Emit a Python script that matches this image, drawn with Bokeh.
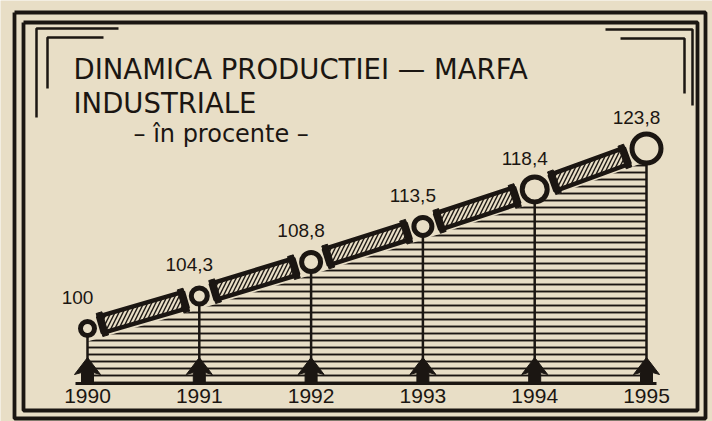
import math
from bokeh.plotting import figure
from bokeh.core.properties import value
from bokeh.embed import file_html
from bokeh.resources import INLINE

# ---- data ----
years = [1990, 1991, 1992, 1993, 1994, 1995]
values = [100, 104.3, 108.8, 113.5, 118.4, 123.8]
value_labels = ["100", "104,3", "108,8", "113,5", "118,4", "123,8"]
year_labels = ["1990", "1991", "1992", "1993", "1994", "1995"]
title_line1 = "DINAMICA PRODUCTIEI — MARFA"
title_line2 = "INDUSTRIALE"
subtitle = "– în procente –"

# ---- style / layout ----
BG = "#e8dec6"
INK = "#1b1612"
W, H = 712, 421
SX, SY = 111.8, 7.56              # pixels per year, pixels per percent
X0 = years[0] - 87 / SX
X1 = X0 + W / SX
Y1 = values[0] + 328 / SY
Y0 = Y1 - H / SY
BASE = Y1 - 383 / SY
circle_outer = [19, 21, 24, 23, 30, 34]
RING = 5


def ix(px):
    return X0 + px / SX


def iy(py):
    return Y1 - py / SY


p = figure(width=W, height=H, x_range=(X0, X1), y_range=(Y0, Y1),
           output_backend="svg", toolbar_location=None, min_border=0,
           background_fill_color=BG, border_fill_color=BG, outline_line_color=None)
p.axis.visible = False
p.grid.visible = False

# frame
for (l, t, r, b, lw) in [(14, 12, 705, 418, 3.8), (23, 22, 697, 410, 3.8)]:
    p.line([ix(l), ix(r), ix(r), ix(l), ix(l)], [iy(t), iy(t), iy(b), iy(b), iy(t)],
           line_width=lw, line_color=INK)
# corner ornaments
for pts in [[(36, 117), (36, 28), (118, 28)], [(47, 88), (47, 37), (103, 37)],
            [(605, 29), (692, 29), (692, 105)], [(620, 38), (684, 38), (684, 93)]]:
    p.line([ix(a) for a, _ in pts], [iy(c) for _, c in pts], line_width=2.5, line_color=INK)

# striped area under the line
p.varea(x=years, y1=[BASE] * len(years), y2=[v - 13 / SY for v in values],
        fill_alpha=0, hatch_pattern="horizontal_line", hatch_color=INK,
        hatch_scale=7, hatch_weight=1.9)

# verticals
p.segment(x0=years, y0=[BASE] * len(years), x1=years, y1=values, line_width=2.5, line_color=INK)

# baseline
p.segment(x0=[years[0] - 12 / SX], y0=[BASE], x1=[years[-1] + 10 / SX], y1=[BASE],
          line_width=3, line_color=INK)

# arrows
shape = [(0, -26), (13, -9), (6, -11), (6, 0), (-6, 0), (-6, -11), (-13, -9)]
axs = [[yr + dx / SX for dx, _ in shape] for yr in years]
ays = [[BASE - dy / SY for _, dy in shape] for _ in years]
p.patches(axs, ays, fill_color=INK, line_color=INK, line_width=1)

# hatched bands between points
bx, by, blen, bang = [], [], [], []
tx, ty, tang = [], [], []
for i in range(len(years) - 1):
    dxp = (years[i + 1] - years[i]) * SX
    dyp = (values[i + 1] - values[i]) * SY
    L = math.hypot(dxp, dyp)
    ang = math.atan2(dyp, dxp)
    ux, uy = dxp / L, dyp / L
    s = circle_outer[i] / 2 + 4
    e = L - circle_outer[i + 1] / 2 - 4
    m = (s + e) / 2
    bx.append(years[i] + m * ux / SX)
    by.append(values[i] + m * uy / SY)
    blen.append(e - s)
    bang.append(ang)
    for t in (s + 2, e - 2):
        tx.append(years[i] + t * ux / SX)
        ty.append(values[i] + t * uy / SY)
        tang.append(ang)

p.rect(x=bx, y=by, width=blen, height=17, angle=bang, width_units="screen",
       height_units="screen", fill_color=BG, line_color=INK, line_width=4.5,
       hatch_pattern="/", hatch_color=INK, hatch_scale=8, hatch_weight=1.4)
p.rect(x=tx, y=ty, width=6, height=24, angle=tang, width_units="screen",
       height_units="screen", fill_color=INK, line_color=INK)

# circles
p.scatter(x=years, y=values, size=[c - RING for c in circle_outer], marker="circle",
          fill_color=BG, line_color=INK, line_width=RING)

# value labels
p.text(x=[yr - 10 / SX for yr in years], y=[v + 31 / SY for v in values], text=value_labels,
       text_align="center", text_baseline="middle", text_color=INK,
       text_font=value("Liberation Sans"), text_font_size="19px")

# year labels
p.text(x=years, y=[BASE - 12 / SY] * len(years), text=year_labels,
       text_align="center", text_baseline="middle", text_color=INK,
       text_font=value("Liberation Sans"), text_font_size="21px")

# titles
p.text(x=[ix(73)], y=[iy(68)], text=[title_line1], text_align="left", text_baseline="alphabetic",
       text_color=INK, text_font=value("DejaVu Sans"), text_font_size="27.5px")
p.text(x=[ix(73)], y=[iy(102)], text=[title_line2], text_align="left", text_baseline="alphabetic",
       text_color=INK, text_font=value("DejaVu Sans"), text_font_size="27.5px")
p.text(x=[ix(133)], y=[iy(133)], text=[subtitle], text_align="left", text_baseline="alphabetic",
       text_color=INK, text_font=value("DejaVu Sans"), text_font_size="24px")

open("out.html", "w").write(file_html(p, INLINE))
